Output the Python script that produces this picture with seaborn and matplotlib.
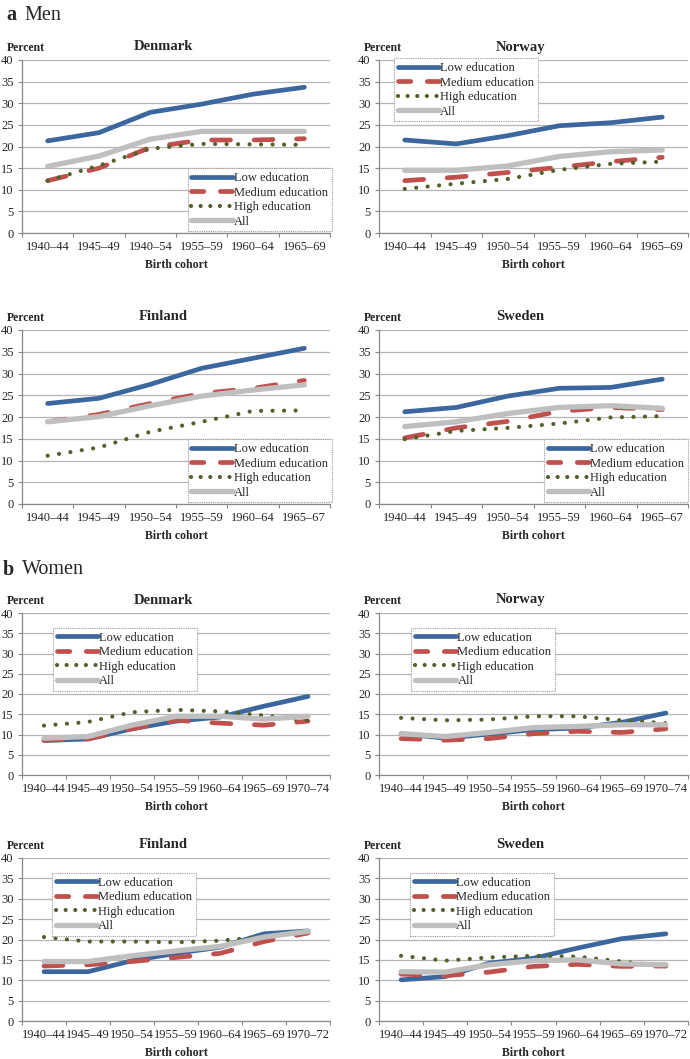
import numpy as np
import matplotlib
matplotlib.use("Agg")
import matplotlib.pyplot as plt
import seaborn as sns

sns.set_theme(style="white")
plt.rcParams['font.family'] = ['Liberation Serif', 'DejaVu Serif']

W, H = 690, 1059

# ---------------- categories ----------------
cats_men_dk = ["1940–44", "1945–49", "1940–54", "1955–59", "1960–64", "1965–69"]
cats_men_no = ["1940–44", "1945–49", "1950–54", "1955–59", "1960–64", "1965–69"]
cats_men_fs = ["1940–44", "1945–49", "1950–54", "1955–59", "1960–64", "1965–67"]
cats_wom_dn = ["1940–44", "1945–49", "1950–54", "1955–59", "1960–64", "1965–69", "1970–74"]
cats_wom_fs = ["1940–44", "1945–49", "1950–54", "1955–59", "1960–64", "1965–69", "1970–72"]

# ---------------- Men ----------------
men_dk_low = [21.3, 23.2, 27.9, 29.8, 32.1, 33.7]
men_dk_med = [12.1, 15.0, 19.8, 21.5, 21.5, 21.8]
men_dk_high = [12.1, 15.6, 19.5, 20.6, 20.5, 20.4]
men_dk_all = [15.4, 17.8, 21.7, 23.5, 23.5, 23.5]

men_no_low = [21.5, 20.6, 22.5, 24.8, 25.5, 26.8]
men_no_med = [12.1, 12.9, 14.0, 15.2, 16.5, 17.5]
men_no_high = [10.2, 11.4, 12.5, 14.6, 16.0, 16.5]
men_no_all = [14.5, 14.5, 15.5, 17.7, 18.8, 19.2]

men_fi_low = [23.1, 24.3, 27.5, 31.2, 33.5, 35.8]
men_fi_med = [18.9, 20.6, 23.1, 25.4, 26.6, 28.4]
men_fi_high = [11.1, 13.0, 16.6, 18.9, 21.4, 21.5]
men_fi_all = [18.9, 20.1, 22.6, 24.8, 26.2, 27.4]

men_se_low = [21.2, 22.2, 24.8, 26.6, 26.8, 28.7]
men_se_med = [15.2, 17.5, 19.0, 21.3, 22.2, 21.7]
men_se_high = [14.9, 16.8, 17.5, 18.5, 19.9, 20.2]
men_se_all = [17.8, 18.9, 20.8, 22.2, 22.6, 22.0]

# ---------------- Women ----------------
wom_dk_low = [8.5, 8.9, 11.4, 13.3, 14.3, 17.0, 19.4]
wom_dk_med = [8.6, 8.9, 11.4, 13.5, 12.8, 12.3, 13.3]
wom_dk_high = [12.2, 13.1, 15.5, 16.1, 15.7, 14.7, 13.5]
wom_dk_all = [9.1, 9.5, 12.3, 14.5, 14.5, 13.8, 14.5]

wom_no_low = [10.2, 9.1, 10.1, 11.2, 11.6, 13.0, 15.3]
wom_no_med = [9.0, 8.6, 9.0, 10.2, 10.8, 10.5, 11.4]
wom_no_high = [14.1, 13.5, 13.7, 14.5, 14.5, 13.5, 12.8]
wom_no_all = [10.2, 9.5, 10.5, 11.7, 12.0, 12.4, 12.4]

wom_fi_low = [12.1, 12.1, 14.8, 16.6, 18.1, 21.4, 22.1]
wom_fi_med = [13.5, 13.8, 14.6, 15.6, 16.6, 19.5, 21.6]
wom_fi_high = [20.6, 19.5, 19.5, 19.3, 19.7, 20.7, 22.0]
wom_fi_all = [14.6, 14.6, 16.0, 17.2, 18.3, 20.6, 22.0]

wom_se_low = [10.1, 10.9, 14.2, 15.4, 17.9, 20.2, 21.4]
wom_se_med = [11.5, 11.1, 12.0, 13.4, 13.9, 13.4, 13.5]
wom_se_high = [16.0, 14.8, 15.6, 16.0, 15.8, 14.6, 13.4]
wom_se_all = [12.1, 12.0, 13.8, 14.8, 15.0, 14.0, 13.8]

series_names = ["Low education", "Medium education", "High education", "All"]
yticks = [0, 5, 10, 15, 20, 25, 30, 35, 40]

STYLES = {
    "Low education": dict(color="#3b679e", linewidth=3.4, linestyle="-",
                          solid_capstyle="round"),
    "Medium education": dict(color="#c0504d", linewidth=3.4,
                             linestyle=(0, (4.0, 5.0)), dash_capstyle="round"),
    "High education": dict(color="#4f6228", linewidth=3.0,
                           linestyle=(0, (0.01, 2.75)), dash_capstyle="round"),
    "All": dict(color="#bfbfbf", linewidth=3.8, linestyle="-",
                solid_capstyle="round"),
}

fig = plt.figure(figsize=(W / 100, H / 100), dpi=100)


def rect(left_px, right_px, top_px, bottom_px):
    return [left_px / W, 1 - bottom_px / H, (right_px - left_px) / W,
            (bottom_px - top_px) / H]


def px2pt(v):
    return v * 0.72


def panel(r, title, cats, data, leg_loc, leg_anchor):
    ax = fig.add_axes(r)
    n = len(cats)
    x = np.arange(n)
    for name, vals in zip(series_names, data):
        sns.lineplot(x=x, y=vals, ax=ax, label=name, **STYLES[name])
    ax.set_xlim(-0.5, n - 0.5)
    ax.set_ylim(0, 40)
    ax.set_yticks(yticks)
    ax.set_yticklabels([str(v) for v in yticks], fontsize=9)
    ax.set_xticks(np.arange(n + 1) - 0.5)
    ax.set_xticklabels([])
    ax.set_xticks(x, minor=True)
    ax.set_xticklabels(cats, minor=True, fontsize=9)
    ax.tick_params(axis="x", which="major", direction="out", length=3.2,
                   width=0.8, color="#888888", bottom=True)
    ax.tick_params(axis="x", which="minor", length=0, pad=5.5)
    ax.tick_params(axis="y", direction="out", length=3, width=0.8,
                   color="#888888", pad=3, left=True)
    ax.yaxis.grid(True, color="#b5b5b5", linewidth=0.9)
    ax.xaxis.grid(False)
    ax.set_axisbelow(True)
    for s in ["top", "right"]:
        ax.spines[s].set_visible(False)
    for s in ["left", "bottom"]:
        ax.spines[s].set_color("#888888")
        ax.spines[s].set_linewidth(0.9)
    ax.set_xlabel("")
    ax.set_ylabel("")
    ax.annotate(title, xy=(0.458, 1), xycoords="axes fraction",
                xytext=(0, px2pt(13)), textcoords="offset points",
                ha="center", va="center", fontsize=10.5, fontweight="bold")
    ax.annotate("Percent", xy=(0, 1), xycoords="axes fraction",
                xytext=(px2pt(-15), px2pt(12)), textcoords="offset points",
                ha="left", va="center", fontsize=8.5, fontweight="bold")
    ax.annotate("Birth cohort", xy=(0.5, 0), xycoords="axes fraction",
                xytext=(0, px2pt(-32)), textcoords="offset points",
                ha="center", va="center", fontsize=8.5, fontweight="bold")
    leg = ax.legend(loc=leg_loc, bbox_to_anchor=leg_anchor, fontsize=9,
                    handlelength=3.3, handletextpad=0.1, labelspacing=0.2,
                    borderpad=0.3, borderaxespad=0, frameon=True,
                    fancybox=False, framealpha=1)
    lines = leg.get_lines()
    lines[1].set_linestyle((0, (2.6, 3.5)))
    lines[2].set_linestyle((0, (0.01, 2.3)))
    fr = leg.get_frame()
    fr.set_edgecolor("#999999")
    fr.set_linewidth(0.8)
    fr.set_linestyle((0, (1, 1)))
    return ax


LC = (22, 330)
RC = (379, 688)
ROWS = [(60, 233), (330, 504), (613, 775), (858, 1021)]

panel(rect(*LC, *ROWS[0]), "Denmark", cats_men_dk,
      [men_dk_low, men_dk_med, men_dk_high, men_dk_all], "lower right", (1.005, 0.01))
panel(rect(*RC, *ROWS[0]), "Norway", cats_men_no,
      [men_no_low, men_no_med, men_no_high, men_no_all], "upper left", (0.048, 1.01))
panel(rect(*LC, *ROWS[1]), "Finland", cats_men_fs,
      [men_fi_low, men_fi_med, men_fi_high, men_fi_all], "lower right", (1.005, 0.01))
panel(rect(*RC, *ROWS[1]), "Sweden", cats_men_fs,
      [men_se_low, men_se_med, men_se_high, men_se_all], "lower right", (1.0, 0.01))

panel(rect(*LC, *ROWS[2]), "Denmark", cats_wom_dn,
      [wom_dk_low, wom_dk_med, wom_dk_high, wom_dk_all], "upper left", (0.10, 0.907))
panel(rect(*RC, *ROWS[2]), "Norway", cats_wom_dn,
      [wom_no_low, wom_no_med, wom_no_high, wom_no_all], "upper left", (0.104, 0.907))
panel(rect(*LC, *ROWS[3]), "Finland", cats_wom_fs,
      [wom_fi_low, wom_fi_med, wom_fi_high, wom_fi_all], "upper left", (0.097, 0.908))
panel(rect(*RC, *ROWS[3]), "Sweden", cats_wom_fs,
      [wom_se_low, wom_se_med, wom_se_high, wom_se_all], "upper left", (0.10, 0.908))

# section headers
fig.text(6 / W, 1 - 15 / H, "a", fontsize=14.5, fontweight="bold", ha="left", va="center")
fig.text(24 / W, 1 - 15 / H, "Men", fontsize=14.5, ha="left", va="center")
fig.text(3 / W, 1 - 570 / H, "b", fontsize=14.5, fontweight="bold", ha="left", va="center")
fig.text(22 / W, 1 - 570 / H, "Women", fontsize=14.5, ha="left", va="center")

fig.savefig("out.png", dpi=100)
